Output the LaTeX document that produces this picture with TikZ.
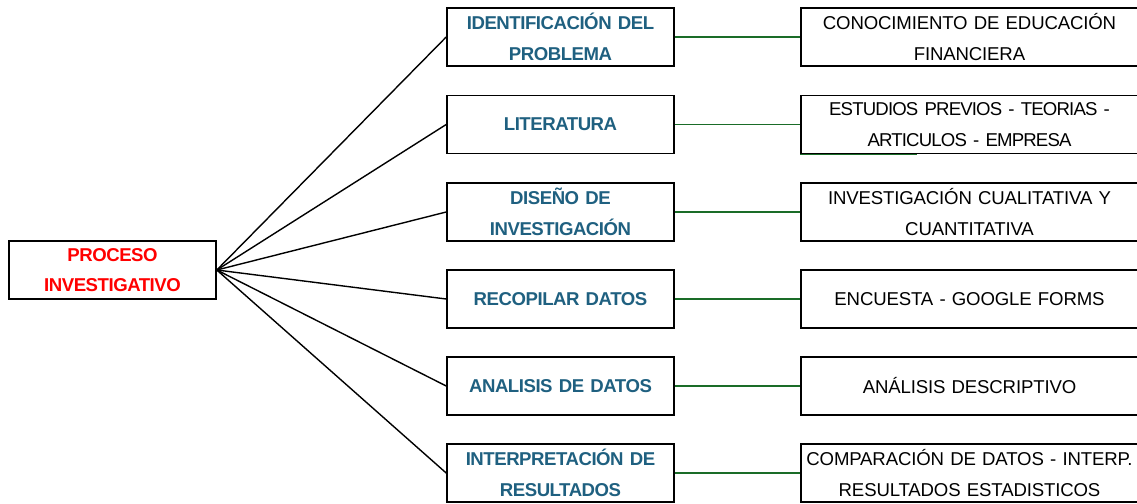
\documentclass[tikz,border=0pt]{standalone}
\usepackage{fontspec}
\setmainfont{Liberation Sans}
\newfontfamily\tightbold[LetterSpace=-2.5]{Liberation Sans Bold}
\newfontfamily\tightreg[LetterSpace=-0.8]{Liberation Sans}
\newfontfamily\tighterreg[LetterSpace=-4.5]{Liberation Sans}
\definecolor{midblue}{RGB}{31,96,128}
\definecolor{linkgreen}{RGB}{26,108,40}
\begin{document}
\begin{tikzpicture}[x=1pt,y=-1pt,
  box/.style={draw=black, line width=1.6pt, rectangle, align=center, inner sep=0pt,
    minimum height=58pt},
  rootbox/.style={box, minimum width=207pt, text=red, font=\fontsize{18.6}{30.5}\tightbold},
  midbox/.style={box, minimum width=227pt, text width=225pt, text=midblue, font=\fontsize{18.6}{30.5}\tightbold},
  rightbox/.style={box, minimum width=337pt, text width=335pt, text=black, font=\fontsize{18.6}{30.5}\tightreg},
  fan/.style={draw=black, line width=1.4pt},
  link/.style={draw=linkgreen, line width=1.3pt}]
\useasboundingbox (0,0) rectangle (1137,503);
\node[rootbox] (root) at (112.5,270) {PROCESO\\INVESTIGATIVO};
\node[midbox] (m1) at (560.5,37) {IDENTIFICACIÓN DEL\\PROBLEMA};
\node[midbox] (m2) at (560.5,124.5) {LITERATURA};
\node[midbox] (m3) at (560.5,212) {DISEÑO DE\\INVESTIGACIÓN};
\node[midbox] (m4) at (560.5,299) {RECOPILAR DATOS};
\node[midbox] (m5) at (560.5,386) {ANALISIS DE DATOS};
\node[midbox] (m6) at (560.5,473) {INTERPRETACIÓN DE\\RESULTADOS};
\node[rightbox] (r1) at (969.5,37) {CONOCIMIENTO DE EDUCACIÓN\\FINANCIERA};
\node[rightbox, font=\fontsize{18.6}{30.5}\tighterreg] (r2) at (969.5,124.5) {ESTUDIOS PREVIOS - TEORIAS -\\ARTICULOS - EMPRESA};
\node[rightbox] (r3) at (969.5,212) {INVESTIGACIÓN CUALITATIVA Y\\CUANTITATIVA};
\node[rightbox] (r4) at (969.5,299) {ENCUESTA - GOOGLE FORMS};
\node[rightbox] (r5) at (969.5,386) {ANÁLISIS DESCRIPTIVO};
\node[rightbox] (r6) at (969.5,473) {COMPARACIÓN DE DATOS - INTERP.\\RESULTADOS ESTADISTICOS};
\foreach \i in {1,...,6} {
  \draw[fan] (root.east) -- (m\i.west);
  \draw[link] (m\i.east) -- (r\i.west);
}
\draw[link] (r2.south west) -- ++(117,0);
\end{tikzpicture}
\end{document}
